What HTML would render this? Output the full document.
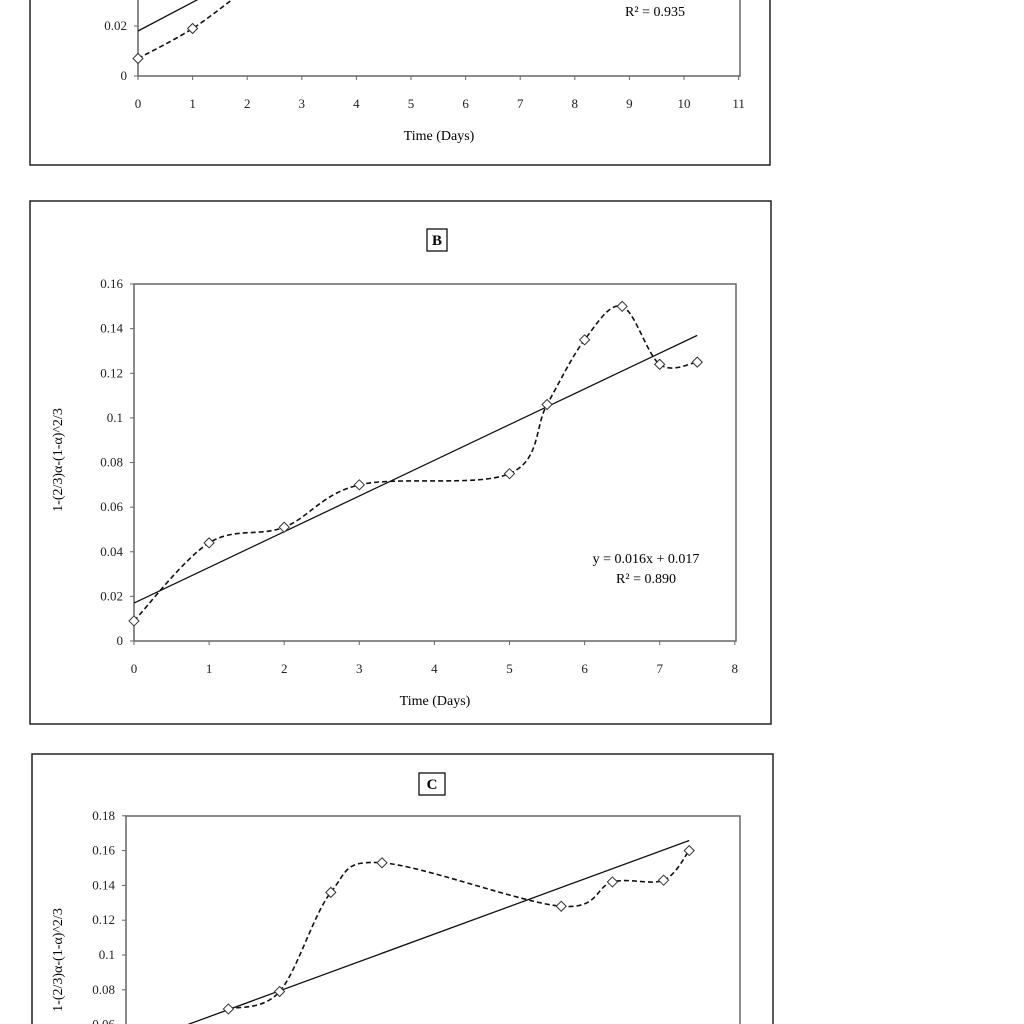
<!DOCTYPE html>
<html><head><meta charset="utf-8"><style>
html,body{margin:0;padding:0;background:#fff;width:1024px;height:1024px;overflow:hidden}
svg{font-family:"Liberation Serif",serif;display:block;overflow:hidden}
</style></head><body>
<svg id="s" width="1024" height="1024" xmlns="http://www.w3.org/2000/svg"></svg>
<script>
// Panel A data (partially visible)
const aDays=[0,1,2,3];
const aVals=[0.007,0.019,0.035,0.05];
const aSlope=0.0115, aInt=0.018;
const aXTicks=[0,1,2,3,4,5,6,7,8,9,10,11];
const aYTicks=[0,0.02];
// Panel B data
const bDays=[0,1,2,3,5,5.5,6,6.5,7,7.5];
const bVals=[0.009,0.044,0.051,0.070,0.075,0.106,0.135,0.150,0.124,0.125];
const bSlope=0.016, bInt=0.017;
const bXTicks=[0,1,2,3,4,5,6,7,8];
const bYTicks=[0,0.02,0.04,0.06,0.08,0.1,0.12,0.14,0.16];
// Panel C data
const cDays=[2,3,4,5,8.5,9.5,10.5,11];
const cVals=[0.069,0.079,0.136,0.153,0.128,0.142,0.143,0.160];
const cSlope=0.0108, cInt=0.047;
const cYTicks=[0.06,0.08,0.1,0.12,0.14,0.16,0.18];

const S=document.getElementById('s');
const NS='http://www.w3.org/2000/svg';
function mk(tag,attrs,parent){const e=document.createElementNS(NS,tag);for(const k in attrs)e.setAttribute(k,attrs[k]);(parent||S).appendChild(e);return e;}
function smooth(pts){let d='M'+pts[0][0]+','+pts[0][1];for(let i=0;i<pts.length-1;i++){const p0=pts[i-1]||pts[i],p1=pts[i],p2=pts[i+1],p3=pts[i+2]||p2;const c1=[p1[0]+(p2[0]-p0[0])/6,p1[1]+(p2[1]-p0[1])/6],c2=[p2[0]-(p3[0]-p1[0])/6,p2[1]-(p3[1]-p1[1])/6];d+=' C'+c1[0]+','+c1[1]+' '+c2[0]+','+c2[1]+' '+p2[0]+','+p2[1];}return d;}

function panel(cfg){
  const g=mk('g',{});
  
  
  const fr=mk('rect',{x:cfg.box[0],y:cfg.box[1],width:cfg.box[2],height:cfg.box[3],fill:'#fff',stroke:'#222','stroke-width':1.5},g);
  
  
  const X=v=>cfg.px0+(v-cfg.x0)*cfg.pxu, Y=v=>cfg.py0-(v)*cfg.pyu;
  const pbot=Math.min(cfg.py0,1030);
  const pa=mk('rect',{x:cfg.px0,y:cfg.ptop,width:cfg.pright-cfg.px0,height:pbot-cfg.ptop,fill:'none',stroke:'#666','stroke-width':1.5},g);
  
  
  if(cfg.title){
    const tb=mk('rect',{x:cfg.title[1],y:cfg.title[2],width:cfg.title[3],height:22,fill:'#fff',stroke:'#111','stroke-width':1.3},g);
    
    
    const t=mk('text',{x:cfg.title[1]+cfg.title[3]/2,y:cfg.title[2]+16,'text-anchor':'middle','font-size':15,'font-weight':'bold'},g);
    t.textContent=cfg.title[0];
    
    
  }
  cfg.yt.forEach(v=>{const y=Y(v);if(y<-10||y>1034)return;
    mk('line',{x1:cfg.px0-4,x2:cfg.px0,y1:y,y2:y,stroke:'#666'},g);
    const t=mk('text',{x:cfg.px0-11,y:y+4,'text-anchor':'end','font-size':13,fill:'#222'},g);t.textContent=String(v);
    
    });
  (cfg.xt||[]).forEach(v=>{const x=X(v);
    mk('line',{x1:x,x2:x,y1:cfg.py0,y2:cfg.py0+4,stroke:'#666'},g);
    const t=mk('text',{x:x,y:cfg.py0+32,'text-anchor':'middle','font-size':13,fill:'#222'},g);t.textContent=String(v);
    
    });
  if(cfg.xt){const t=mk('text',{x:(cfg.px0+cfg.pright)/2,y:cfg.py0+64,'text-anchor':'middle','font-size':14},g);t.textContent='Time (Days)';
    
    }
  if(cfg.ylab){const t=mk('text',{x:0,y:0,'text-anchor':'middle','font-size':14,transform:`translate(${cfg.ylab[0]},${cfg.ylab[1]}) rotate(-90)`},g);t.textContent='1-(2/3)α-(1-α)^2/3';
    
    }
  const xs=cfg.days, ys=cfg.vals;
  const x1=cfg.trend[2],x2=cfg.trend[3];
  const tl=mk('line',{x1:X(x1),y1:Y(cfg.trend[1]+cfg.trend[0]*x1),x2:X(x2),y2:Y(cfg.trend[1]+cfg.trend[0]*x2),stroke:'#111','stroke-width':1.3},g);
  
  
  const pts=xs.map((d,i)=>[X(d),Y(ys[i])]);
  const p=mk('path',{d:smooth(pts),fill:'none',stroke:'#111','stroke-width':1.6,'stroke-dasharray':'5,3'},g);
  
  
  pts.forEach(q=>{const m=mk('path',{d:`M${q[0]},${q[1]-5} L${q[0]+5},${q[1]} L${q[0]},${q[1]+5} L${q[0]-5},${q[1]} Z`,fill:'#fff',stroke:'#333','stroke-width':1},g);
    
    });
  (cfg.eq||[]).forEach(e=>{const t=mk('text',{x:e[1],y:e[2],'text-anchor':'middle','font-size':14},g);t.textContent=e[0];
    
    });
}
panel({name:'panel-a',box:[30,-20,740,185],px0:138,pright:740,ptop:-20,py0:76,x0:0,pxu:54.6,pyu:2500,
  yt:aYTicks,xt:aXTicks,days:aDays,vals:aVals,trend:[aSlope,aInt,0,3],eq:[['R² = 0.935',655,16]]});
panel({name:'panel-b',box:[30,201,741,523],px0:134,pright:736,ptop:284,py0:641,x0:0,pxu:75.1,pyu:2231,
  title:['B',427,229,20],yt:bYTicks,xt:bXTicks,days:bDays,vals:bVals,trend:[bSlope,bInt,0,7.5],
  ylab:[62,460],eq:[['y = 0.016x + 0.017',646,563],['R² = 0.890',646,583]]});
panel({name:'panel-c',box:[32,754,741,280],px0:126,pright:740,ptop:816,py0:1129,x0:0,pxu:51.2,pyu:1740,
  title:['C',419,773,26],yt:cYTicks,days:cDays,vals:cVals,trend:[cSlope,cInt,0.5,11],ylab:[62,960]});
</script>
</body></html>
